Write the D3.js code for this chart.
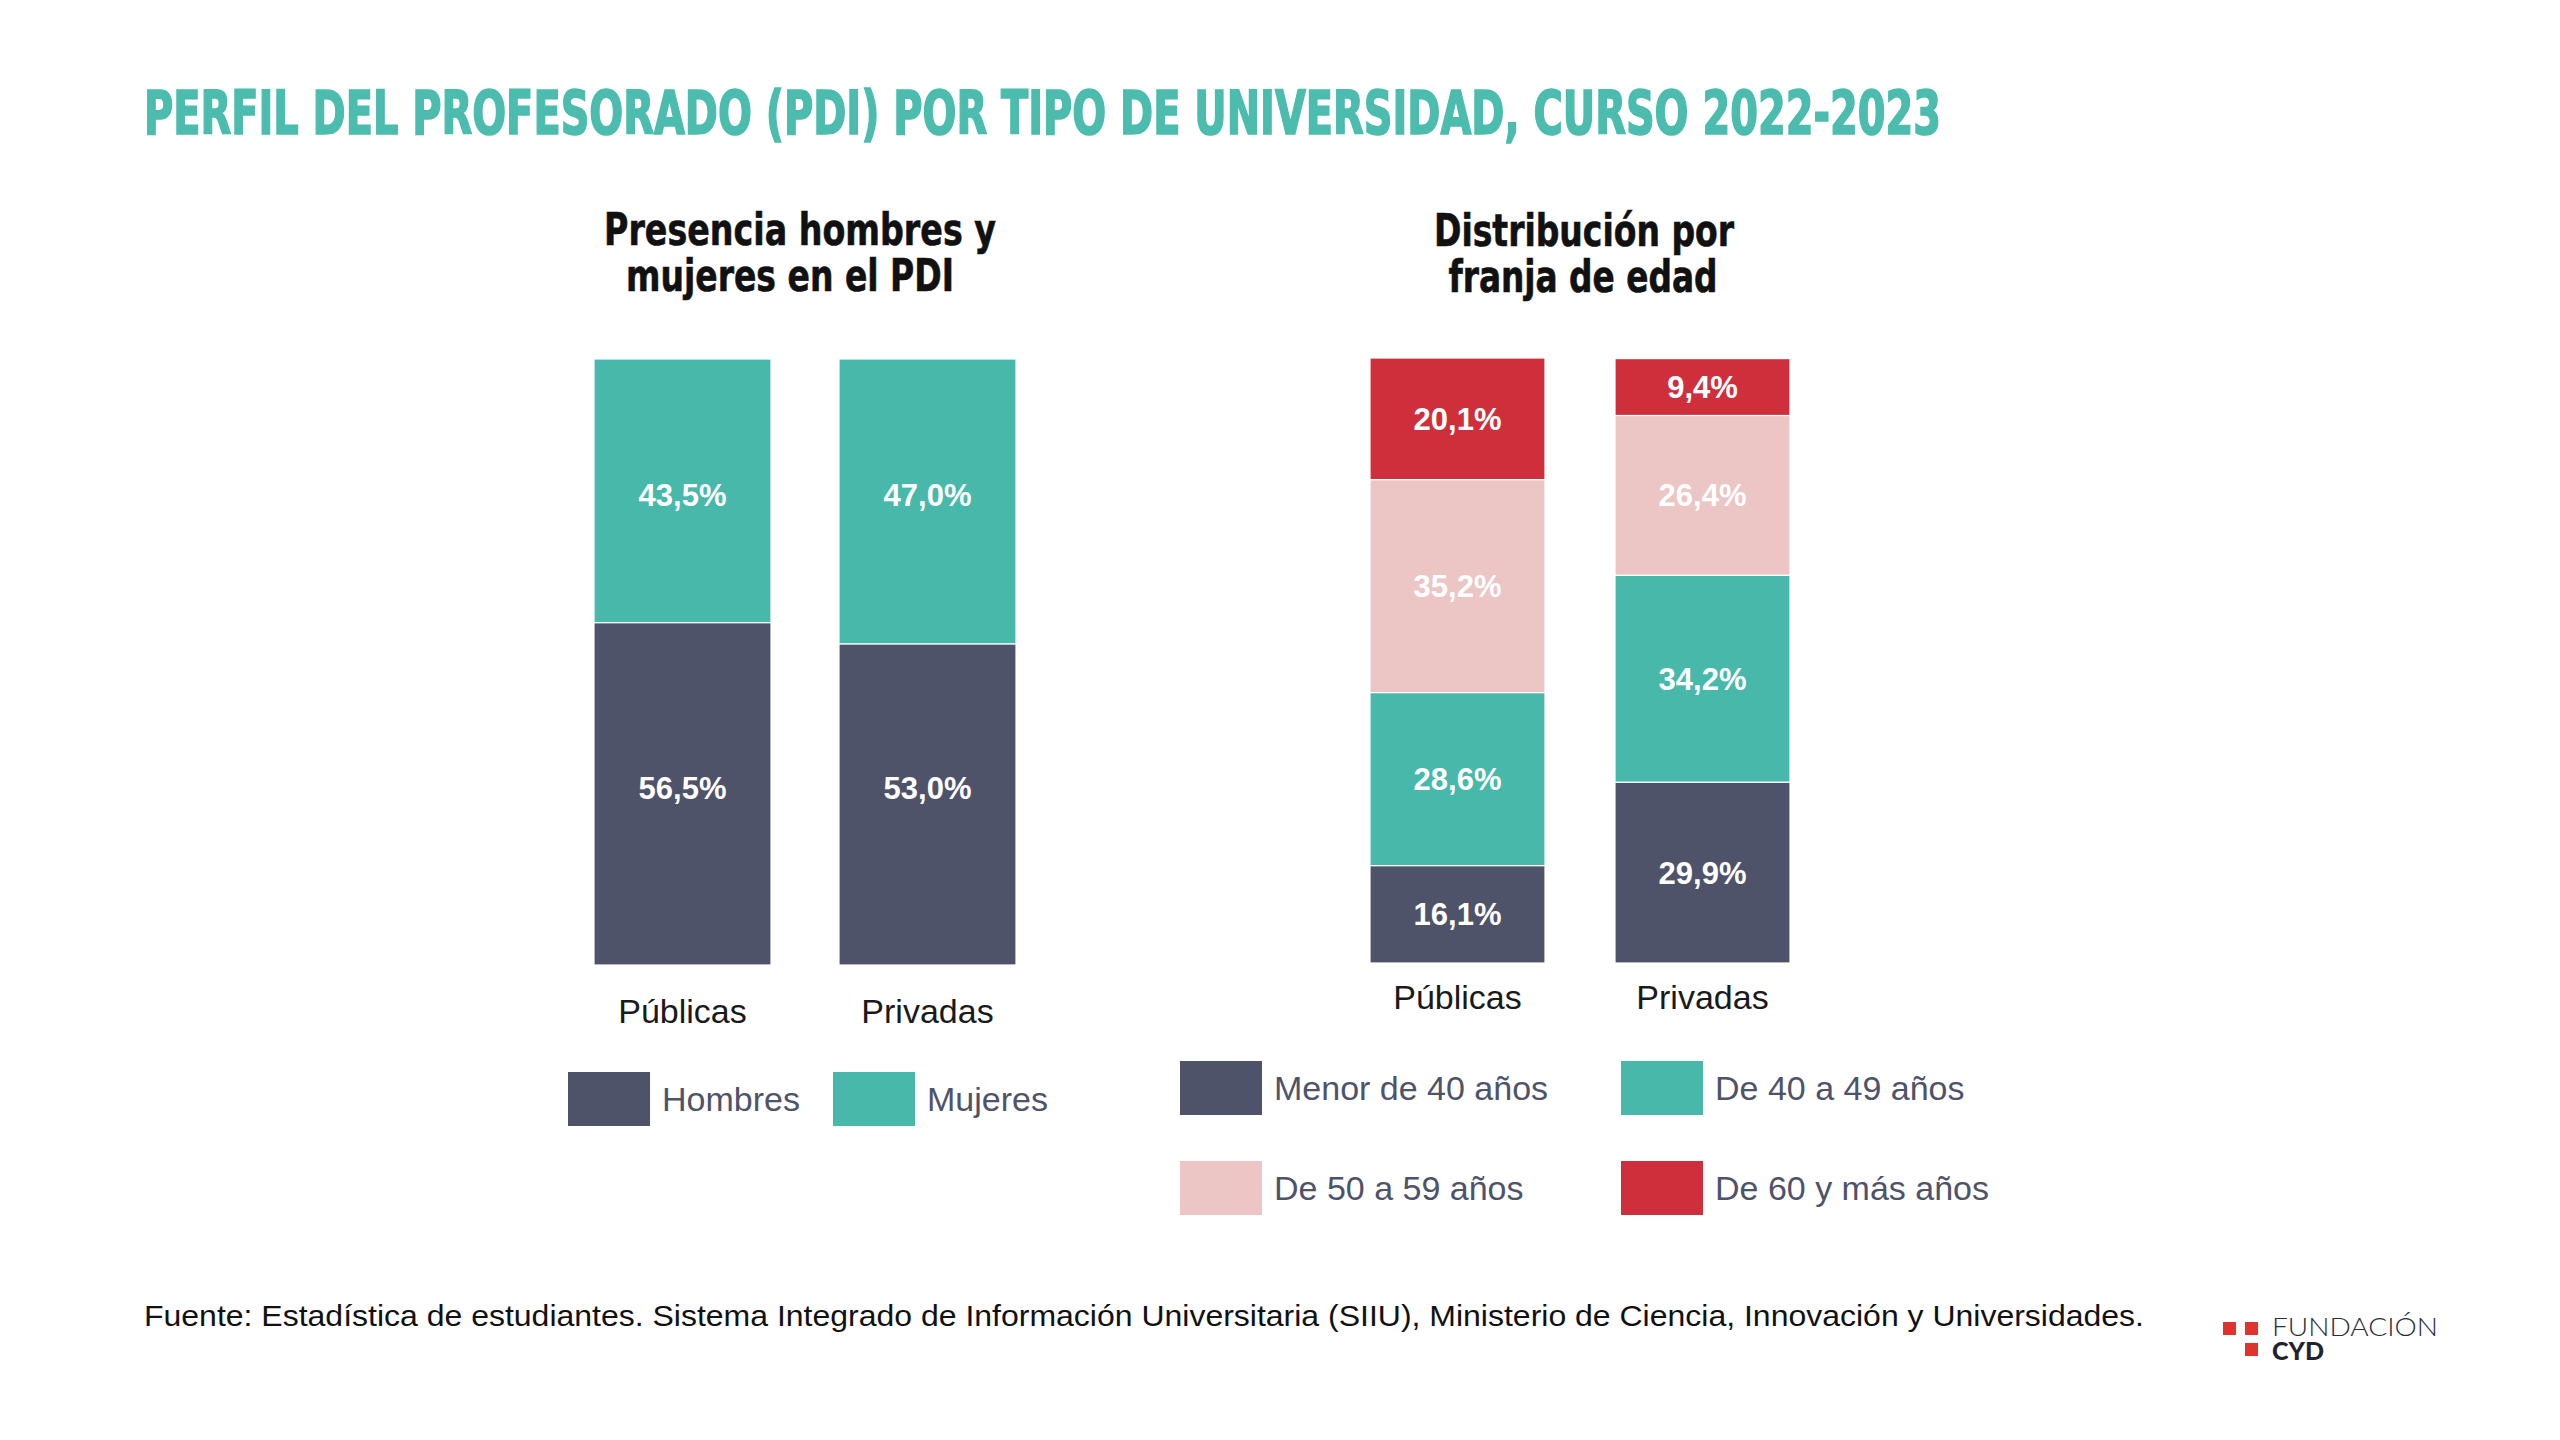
<!DOCTYPE html>
<html>
<head>
<meta charset="utf-8">
<script src="https://cdn.jsdelivr.net/npm/d3@7"></script>
<style>
  body { margin: 0; background: #fff; }
  svg { display: block; }
</style>
</head>
<body>
<script>
// ---------------- data ----------------
const categories = ["Públicas", "Privadas"]

// left chart: sex
const sexKeys = ["Hombres", "Mujeres"]
const hombres = [56.5, 53.0]
const mujeres = [43.5, 47.0]

// right chart: age band
const ageKeys = ["Menor de 40 años", "De 40 a 49 años", "De 50 a 59 años", "De 60 y más años"]
const menor40 = [16.1, 29.9]
const de40a49 = [28.6, 34.2]
const de50a59 = [35.2, 26.4]
const de60mas = [20.1, 9.4]

const title = "PERFIL DEL PROFESORADO (PDI) POR TIPO DE UNIVERSIDAD, CURSO 2022-2023"
const source = "Fuente: Estadística de estudiantes. Sistema Integrado de Información Universitaria (SIIU), Ministerio de Ciencia, Innovación y Universidades."

const colors = {
  "Hombres": "#4e5369",
  "Mujeres": "#48b8ab",
  "Menor de 40 años": "#4e5369",
  "De 40 a 49 años": "#48b8ab",
  "De 50 a 59 años": "#ebc6c5",
  "De 60 y más años": "#cf2f3a"
}

const W = 2560, H = 1440
const condensed = "'Liberation Sans Narrow', 'DejaVu Sans Condensed', 'Liberation Sans', sans-serif"
const sans = "'Liberation Sans', Arial, sans-serif"
const fmt = v => d3.format(".1f")(v).replace(".", ",") + "%"

const svg = d3.select("body").append("svg")
    .attr("width", W)
    .attr("height", H)

svg.append("rect").attr("width", W).attr("height", H).attr("fill", "#fff")

// title
svg.append("text")
    .attr("x", 144).attr("y", 134)
    .attr("font-family", condensed)
    .attr("font-weight", "bold")
    .attr("font-size", 60)
    .attr("fill", "#4bbcad")
    .attr("stroke", "#4bbcad")
    .attr("stroke-width", 1.6)
    .attr("textLength", 1797)
    .attr("lengthAdjust", "spacingAndGlyphs")
    .text(title)

// builds one stacked bar panel
function panel(opts) {
  const rows = categories.map((c, i) => {
    const r = { cat: c }
    opts.keys.forEach((k, j) => r[k] = opts.series[j][i])
    return r
  })
  const stacked = d3.stack().keys(opts.keys)(rows)

  const x = d3.scaleBand()
      .domain(categories)
      .range(opts.xRange)
      .paddingInner(opts.gap / (opts.gap + opts.bw))
  const y = d3.scaleLinear().domain([0, 100]).range(opts.yRange)

  const g = svg.append("g")

  // subtitle
  opts.subtitle.forEach((line, i) => {
    g.append("text")
        .attr("x", opts.subX[i]).attr("y", opts.subY[i])
        .attr("text-anchor", "middle")
        .attr("font-family", condensed)
        .attr("font-weight", "bold")
        .attr("font-size", 44)
        .attr("fill", "#111")
        .attr("stroke", "#111")
        .attr("stroke-width", 0.6)
        .attr("textLength", opts.subW[i])
        .attr("lengthAdjust", "spacingAndGlyphs")
        .text(line)
  })

  const layer = g.selectAll("g.layer")
    .data(stacked)
    .enter().append("g")
      .attr("class", "layer")
      .attr("fill", d => colors[d.key])

  layer.selectAll("rect")
    .data(d => d)
    .enter().append("rect")
      .attr("x", d => x(d.data.cat))
      .attr("y", d => y(d[1]))
      .attr("width", x.bandwidth())
      .attr("height", d => y(d[0]) - y(d[1]))
      .attr("stroke", "#fff")
      .attr("stroke-width", 1.2)

  // value labels: centred in the segment, or on a shared row when the panel asks for it
  layer.each(function (s) {
    d3.select(this).selectAll("text")
      .data(s)
      .enter().append("text")
        .attr("x", d => x(d.data.cat) + x.bandwidth() / 2)
        .attr("y", d => opts.labelRow ? opts.labelRow[s.key] : (y(d[0]) + y(d[1])) / 2)
        .attr("dy", "0.36em")
        .attr("text-anchor", "middle")
        .attr("font-family", sans)
        .attr("font-weight", "bold")
        .attr("font-size", 31)
        .attr("fill", "#fff")
        .text(d => fmt(d[1] - d[0]))
  })

  // category axis
  const axis = g.append("g")
      .attr("transform", `translate(0,${opts.yRange[0]})`)
      .call(d3.axisBottom(x).tickSize(0).tickPadding(opts.tickPad))
  axis.select(".domain").remove()
  axis.selectAll("text")
      .attr("font-family", sans)
      .attr("font-size", 34)
      .attr("fill", "#1a1a1a")

  // legend
  const leg = g.selectAll("g.leg")
    .data(opts.keys)
    .enter().append("g")
      .attr("class", "leg")
      .attr("transform", (d, i) => `translate(${opts.legPos[i][0]},${opts.legPos[i][1]})`)
  leg.append("rect")
      .attr("width", 82).attr("height", 54)
      .attr("fill", d => colors[d])
  leg.append("text")
      .attr("x", 94).attr("y", 27)
      .attr("dy", "0.35em")
      .attr("font-family", sans)
      .attr("font-size", 34)
      .attr("fill", "#4e5369")
      .text(d => d)
}

panel({
  keys: sexKeys,
  series: [hombres, mujeres],
  xRange: [594, 1016], bw: 177, gap: 68,
  yRange: [965, 359],
  tickPad: 34,
  labelRow: { "Hombres": 788, "Mujeres": 495 },
  subtitle: ["Presencia hombres y", "mujeres en el PDI"],
  subX: [800, 790], subY: [245, 291], subW: [392, 328],
  legPos: [[568, 1072], [833, 1072]]
})

panel({
  keys: ageKeys,
  series: [menor40, de40a49, de50a59, de60mas],
  xRange: [1370, 1790], bw: 175, gap: 70,
  yRange: [963, 358],
  tickPad: 22,
  subtitle: ["Distribución por", "franja de edad"],
  subX: [1584, 1583], subY: [246, 292], subW: [300, 269],
  legPos: [[1180, 1061], [1621, 1061], [1180, 1161], [1621, 1161]]
})

// source note
svg.append("text")
    .attr("x", 144).attr("y", 1326)
    .attr("font-family", sans)
    .attr("font-size", 30)
    .attr("fill", "#111")
    .attr("textLength", 2000)
    .attr("lengthAdjust", "spacingAndGlyphs")
    .text(source)

// logo
const logo = svg.append("g")
const squares = [[2223, 1322], [2245, 1322], [2245, 1343]]
logo.selectAll("rect")
  .data(squares)
  .enter().append("rect")
    .attr("x", d => d[0]).attr("y", d => d[1])
    .attr("width", 13).attr("height", 13)
    .attr("fill", "#e03330")
logo.append("text")
    .attr("x", 2272).attr("y", 1336)
    .attr("font-family", "Lato, 'Open Sans', sans-serif")
    .attr("font-weight", 300)
    .attr("font-size", 25)
    .attr("fill", "#2a2d38")
    .attr("textLength", 166)
    .attr("lengthAdjust", "spacingAndGlyphs")
    .text("FUNDACIÓN")
logo.append("text")
    .attr("x", 2272).attr("y", 1360)
    .attr("font-family", "Lato, 'Open Sans', sans-serif")
    .attr("font-weight", 900)
    .attr("font-size", 24)
    .attr("fill", "#1f2430")
    .attr("textLength", 52)
    .attr("lengthAdjust", "spacingAndGlyphs")
    .text("CYD")
</script>
</body>
</html>
